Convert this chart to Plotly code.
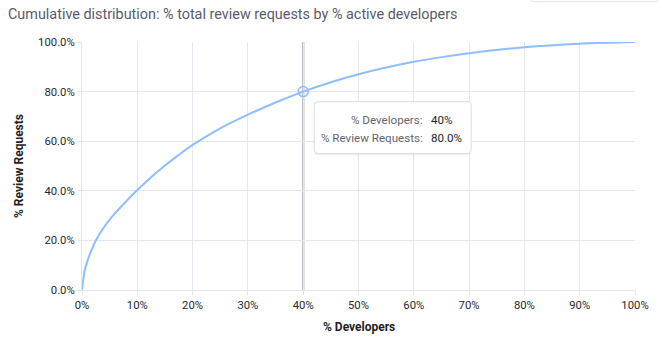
import plotly.graph_objects as go

# Data (percent values)
pct_developers = [0, 0.5, 1, 2, 3, 4, 5, 6, 8, 10, 12.5, 15, 17.5, 20, 25, 30, 35, 40, 45, 50, 55, 60, 65, 70, 80, 90, 100]
pct_review_requests = [0, 8, 11.8, 17.6, 22, 25.4, 28.4, 31, 35.8, 40.3, 45.5, 50.2, 54.5, 58.5, 65.2, 70.7, 75.6, 80, 83.8, 87, 89.7, 92, 93.9, 95.5, 97.9, 99.3, 100]

x_ticks = [0, 10, 20, 30, 40, 50, 60, 70, 80, 90, 100]
y_ticks = [0, 20, 40, 60, 80, 100]

hover_x = 40
hover_y = 80
tooltip_labels = ["% Developers:", "% Review Requests:"]
tooltip_values = ["40%", "80.0%"]

title_text = "Cumulative distribution: % total review requests by % active developers"
x_title = "% Developers"
y_title = "% Review Requests"

FONT = "Roboto"
LINE_COLOR = "rgb(142,190,255)"
GRID = "rgb(230,231,236)"

fig = go.Figure()

fig.add_trace(go.Scatter(
    x=pct_developers, y=pct_review_requests, mode="lines",
    line=dict(color=LINE_COLOR, width=2, shape="spline", smoothing=1),
    hoverinfo="skip", cliponaxis=False, showlegend=False,
))

fig.add_trace(go.Scatter(
    x=[hover_x], y=[hover_y], mode="markers",
    marker=dict(symbol="circle-open", size=10, color=LINE_COLOR, line=dict(width=1.5, color=LINE_COLOR)),
    hoverinfo="skip", cliponaxis=False, showlegend=False,
))

# crosshair vertical line
fig.add_shape(type="line", xref="x", yref="y", x0=hover_x, x1=hover_x, y0=0, y1=100,
              line=dict(color="rgb(190,191,197)", width=2.5), layer="below")

def rounded_rect(x0, y0, x1, y1, r):
    return (f"M{x0+r},{y1} L{x1-r},{y1} Q{x1},{y1} {x1},{y1-r} L{x1},{y0+r} Q{x1},{y0} {x1-r},{y0} "
            f"L{x0+r},{y0} Q{x0},{y0} {x0},{y0+r} L{x0},{y1-r} Q{x0},{y1} {x0+r},{y1} Z")

# tooltip shadow + box (pixel-sized, anchored at hovered point)
for dx, dy, col, fill in [(0, -2, "rgba(0,0,0,0)", "rgba(0,0,0,0.05)"),
                          (0, 0, "rgb(218,220,226)", "white")]:
    fig.add_shape(type="path", xref="x", yref="y", xsizemode="pixel", ysizemode="pixel",
                  xanchor=hover_x, yanchor=hover_y,
                  path=rounded_rect(11 + dx, -62 + dy, 168 + dx, -10 + dy, 4),
                  line=dict(color=col, width=1), fillcolor=fill, layer="above")

for i, (lab, val) in enumerate(zip(tooltip_labels, tooltip_values)):
    fig.add_annotation(x=hover_x, y=hover_y, xref="x", yref="y", text=lab, showarrow=False,
                       xanchor="right", yanchor="middle", xshift=121.5, yshift=-28.5 - 17.7 * i,
                       font=dict(family=FONT, size=11.6, color="rgb(100,102,110)"))
    fig.add_annotation(x=hover_x, y=hover_y, xref="x", yref="y", text=val, showarrow=False,
                       xanchor="left", yanchor="middle", xshift=125.5, yshift=-28.5 - 17.7 * i,
                       font=dict(family=FONT, size=11.6, color="rgb(35,36,40)"))

# clipped dropdown box at top right
fig.add_shape(type="path", xref="paper", yref="paper", ysizemode="pixel", yanchor=1,
              path="M0.81,60 L0.81,44 Q0.81,40.3 0.818,40.3 L1.037,40.3 Q1.044,40.3 1.044,44 L1.044,60",
              line=dict(color="rgb(226,228,236)", width=1), fillcolor="white")

fig.add_annotation(xref="paper", yref="paper", x=0.5, y=0, yshift=-37, text=f"<b>{x_title}</b>",
                   showarrow=False, xanchor="center", yanchor="middle",
                   font=dict(family=FONT, size=12, color="rgb(30,30,35)"))
fig.add_annotation(xref="paper", yref="paper", x=0, y=0.5, xshift=-63, text=f"<b>{y_title}</b>",
                   showarrow=False, xanchor="center", yanchor="middle", textangle=-90,
                   font=dict(family=FONT, size=12, color="rgb(30,30,35)"))

fig.update_layout(
    width=660, height=344,
    margin=dict(l=82, r=25, t=42, b=54),
    paper_bgcolor="white", plot_bgcolor="white",
    font=dict(family=FONT, size=11, color="rgb(40,40,45)"),
    title=dict(text=title_text, x=8 / 660, xanchor="left", xref="container",
               y=1 - 14 / 344, yanchor="middle", yref="container",
               font=dict(family=FONT, size=14.4, color="rgb(88,92,104)")),
    hovermode=False,
    xaxis=dict(range=[0, 100], tickvals=x_ticks, ticktext=[f"{v}%" for v in x_ticks],
               showgrid=True, gridcolor=GRID, gridwidth=1, zeroline=False,
               showline=True, linecolor=GRID, ticks="outside", ticklen=4, tickcolor=GRID,
               tickfont=dict(family=FONT, size=11.3, color="rgb(40,40,45)"), fixedrange=True),
    yaxis=dict(range=[0, 100], tickvals=y_ticks, ticktext=[f"{v:.1f}%" for v in y_ticks],
               showgrid=True, gridcolor=GRID, gridwidth=1, zeroline=False,
               showline=True, linecolor=GRID, ticks="outside", ticklen=4, tickcolor=GRID,
               tickfont=dict(family=FONT, size=11.3, color="rgb(40,40,45)"), fixedrange=True),
)

fig.write_html("out.html", config=dict(displayModeBar=False))
